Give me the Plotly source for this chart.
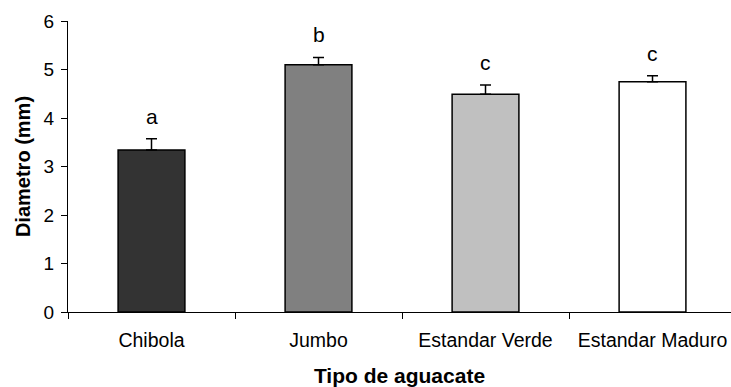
import plotly.graph_objects as go

categories = ["Chibola", "Jumbo", "Estandar Verde", "Estandar Maduro"]
values = [3.34, 5.10, 4.49, 4.75]
errors = [0.23, 0.15, 0.19, 0.12]
letters = ["a", "b", "c", "c"]
colors = ["#333333", "#808080", "#C0C0C0", "#FFFFFF"]
y_ticks = [0, 1, 2, 3, 4, 5, 6]

FONT = "Liberation Sans, Arial, sans-serif"

fig = go.Figure()
fig.add_trace(go.Bar(
    x=categories, y=values,
    marker=dict(color=colors, line=dict(color="black", width=1.5)),
    width=0.4,
    error_y=dict(type="data", array=errors, arrayminus=[0]*len(errors),
                 symmetric=False, color="black", thickness=1.5, width=5.5),
    showlegend=False,
))

for c, v, e, t in zip(categories, values, errors, letters):
    fig.add_annotation(x=c, y=v + e, text=t, showarrow=False,
                       yanchor="bottom", yshift=9,
                       font=dict(family=FONT, size=21, color="black"))

fig.update_layout(
    width=731, height=387,
    margin=dict(l=68, r=0, t=21, b=75, autoexpand=False),
    plot_bgcolor="white", paper_bgcolor="white",
    font=dict(family=FONT, color="black"),
)
fig.update_xaxes(
    type="category", range=[-0.5, 3.47], automargin=False,
    showline=True, linecolor="black", linewidth=1.2,
    ticks="outside", tickson="boundaries", ticklen=6, tickcolor="black", tickwidth=1.2,
    ticklabelstandoff=10,
    tickfont=dict(family=FONT, size=19.5, color="black"),
    title=dict(text="<b>Tipo de aguacate</b>", standoff=21,
               font=dict(family=FONT, size=21, color="black")),
    showgrid=False, zeroline=False,
)
fig.update_yaxes(
    range=[0, 6], tickvals=y_ticks, automargin=False,
    showline=True, linecolor="black", linewidth=1.2,
    ticks="outside", ticklen=6, tickcolor="black", tickwidth=1.2,
    ticklabelstandoff=3,
    tickfont=dict(family=FONT, size=19, color="black"),
    title=dict(text="<b>Diametro (mm)</b>", standoff=7,
               font=dict(family=FONT, size=20, color="black")),
    showgrid=False, zeroline=False,
)

# remove the browser's default page margin so the figure fills the window exactly
fig.write_html("out.html",
               config={"displayModeBar": False},
               post_script="document.body.style.margin='0';"
                           "document.body.style.overflow='hidden';")
